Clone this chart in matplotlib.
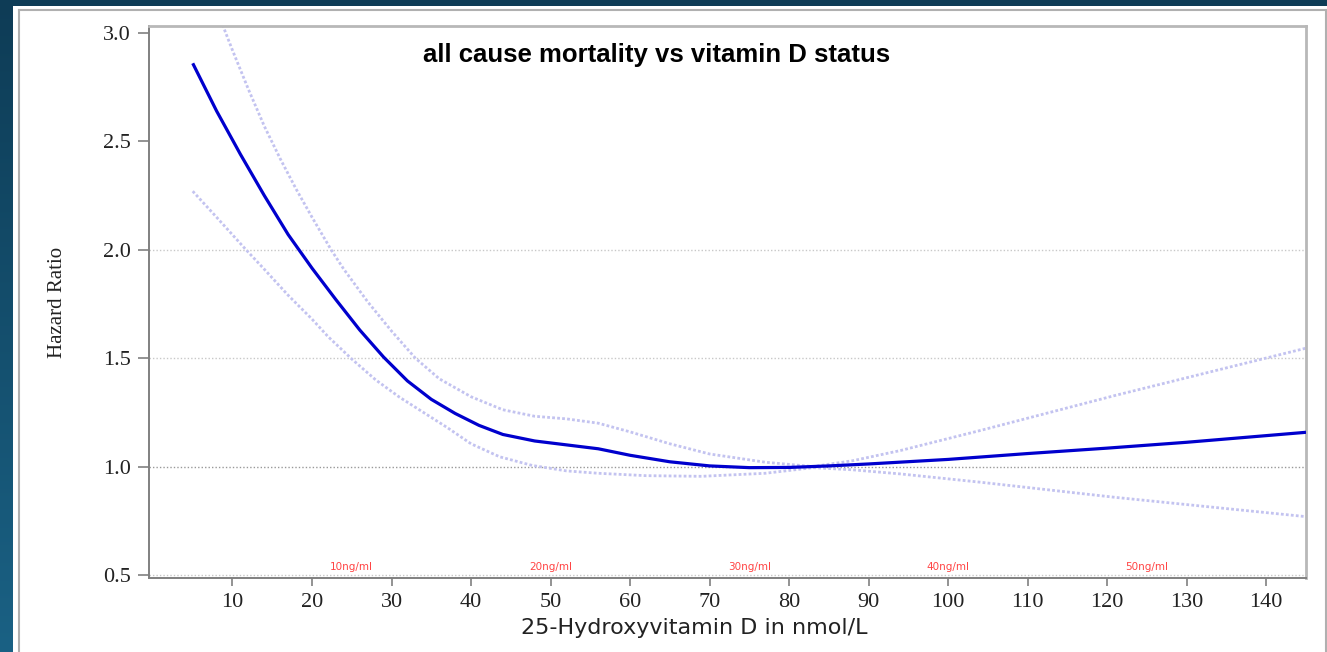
import numpy as np
import matplotlib
matplotlib.use("Agg")
import matplotlib.pyplot as plt
from matplotlib.patches import Rectangle
from matplotlib.lines import Line2D
from matplotlib.colors import LinearSegmentedColormap

# hazard ratio curve
hr_x = [5, 8, 11, 14, 17, 20, 23, 26, 29, 32, 35, 38, 41, 44, 48, 52, 56, 60,
        65, 70, 75, 80, 85, 90, 100, 110, 120, 130, 145]
hr_y = [2.86, 2.64, 2.44, 2.25, 2.07, 1.915, 1.77, 1.63, 1.505, 1.395, 1.31, 1.245,
        1.19, 1.148, 1.118, 1.100, 1.082, 1.052, 1.022, 1.003, 0.995, 0.996,
        1.003, 1.012, 1.033, 1.060, 1.085, 1.112, 1.158]

# upper confidence band
up_x = [8.3, 10, 12, 14, 16, 18, 20, 22.4, 24, 27, 30, 33, 36, 40, 44, 48, 52,
        56, 60, 65, 70, 77, 83, 88, 94, 104, 121, 145]
up_y = [3.08, 2.92, 2.74, 2.57, 2.42, 2.28, 2.15, 2.0, 1.91, 1.76, 1.625, 1.50,
        1.405, 1.322, 1.262, 1.232, 1.22, 1.20, 1.16, 1.105, 1.058, 1.02, 1.0,
        1.027, 1.074, 1.166, 1.328, 1.546]

# lower confidence band
lo_x = [5, 8, 11.7, 14, 17, 20, 22, 25, 28, 31, 34, 37, 40, 43.6, 47.7, 52, 56,
        62, 69, 77, 83, 88, 94, 104, 121, 145]
lo_y = [2.27, 2.15, 2.0, 1.91, 1.79, 1.68, 1.60, 1.496, 1.40, 1.32, 1.25, 1.18,
        1.105, 1.045, 1.005, 0.98, 0.969, 0.958, 0.955, 0.969, 0.995, 0.985,
        0.966, 0.928, 0.858, 0.769]

ng_pos = [25, 50, 75, 100, 125]
ng_labels = ["10ng/ml", "20ng/ml", "30ng/ml", "40ng/ml", "50ng/ml"]

x_ticks = list(range(10, 150, 10))
y_ticks = [0.5, 1.0, 1.5, 2.0, 2.5, 3.0]
grid_y = [0.5, 1.5, 2.0]

W, H = 1327, 652
fig = plt.figure(figsize=(W / 100, H / 100), dpi=100)

# dark slide background with a soft vertical gradient
bg = fig.add_axes([0, 0, 1, 1], zorder=-10)
bg.axis("off")
grad = np.linspace(0, 1, 256).reshape(-1, 1)
cmap = LinearSegmentedColormap.from_list("bg", ["#0e3c56", "#1a6184"])
bg.imshow(grad, aspect="auto", cmap=cmap, extent=[0, 1, 0, 1], origin="upper")
bg.set_xlim(0, 1)
bg.set_ylim(0, 1)
bg.add_patch(Rectangle((13 / W, 0), 1, 1 - 6 / H, facecolor="white", edgecolor="none"))
bg.add_line(Line2D([19 / W, 19 / W], [0, 1 - 10 / H], color="#b0b0b0", lw=1.5))
bg.add_line(Line2D([19 / W, 1], [1 - 10 / H, 1 - 10 / H], color="#b0b0b0", lw=1.5))
bg.add_line(Line2D([1325.5 / W, 1325.5 / W], [0, 1 - 10 / H], color="#b0b0b0", lw=1.5))

ax = fig.add_axes([149 / W, 1 - 578 / H, (1306 - 149) / W, (578 - 26) / H])
ax.set_facecolor("white")

for g in grid_y:
    ax.axhline(g, color="#c8c8c8", lw=1, ls=(0, (1, 1.5)), zorder=1)
ax.axhline(1.0, color="#999999", lw=1, ls=(0, (1, 1.5)), zorder=1)

ax.plot(up_x, up_y, color="#c3c3f0", lw=2, ls=(0, (1, 0.8)), zorder=2)
ax.plot(lo_x, lo_y, color="#c3c3f0", lw=2, ls=(0, (1, 0.8)), zorder=2)
ax.plot(hr_x, hr_y, color="#0000cd", lw=2.3, zorder=3, solid_capstyle="butt")

for p, t in zip(ng_pos, ng_labels):
    ax.text(p, 0.538, t, color="#ff4444", fontsize=7.5, ha="center", va="center",
            family="DejaVu Sans")

ax.set_xlim(-0.5, 145)
ax.set_ylim(0.486, 3.032)
ax.set_xticks(x_ticks)
ax.set_yticks(y_ticks)
ax.set_yticklabels([f"{v:.1f}" for v in y_ticks])

for s in ["left", "bottom"]:
    ax.spines[s].set_color("#808080")
    ax.spines[s].set_linewidth(1.4)
for s in ["top", "right"]:
    ax.spines[s].set_color("#b8b8b8")
    ax.spines[s].set_linewidth(2)

ax.tick_params(axis="y", length=8, width=1.2, color="#808080", pad=5,
               labelsize=16, labelcolor="#222222")
ax.tick_params(axis="x", length=6, width=1.2, color="#808080", pad=5,
               labelsize=16, labelcolor="#222222")
for lab in ax.get_xticklabels() + ax.get_yticklabels():
    lab.set_family("Liberation Serif")

fig.text(57 / W, 1 - 302 / H, "Hazard Ratio", rotation=90, ha="center", va="center",
         fontsize=15, family="Liberation Serif", color="#222222")
fig.text(694 / W, 1 - 628 / H, "25-Hydroxyvitamin D in nmol/L", ha="center", va="center",
         fontsize=16, family="DejaVu Sans", color="#222222")
fig.text(657 / W, 1 - 55 / H, "all cause mortality vs vitamin D status", ha="center",
         va="center", fontsize=18.5, fontweight="bold", family="Liberation Sans", color="black")

fig.savefig("out.png", dpi=100)
